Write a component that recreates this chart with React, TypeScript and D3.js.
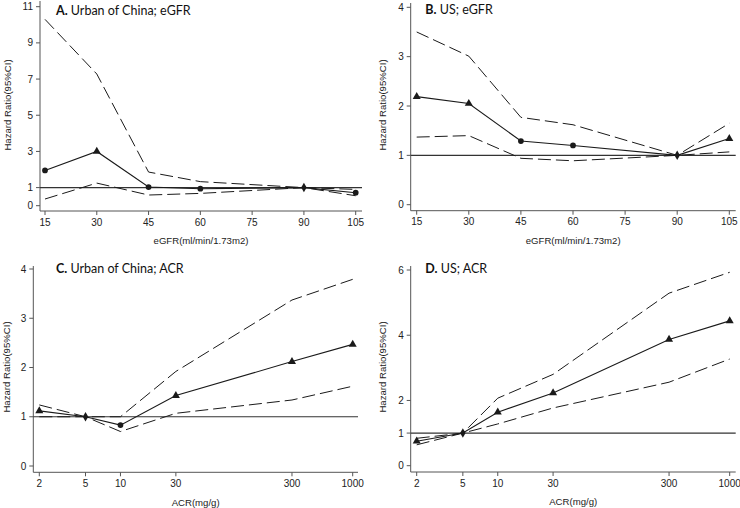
import React from "react";
import * as d3 from "d3";

// ---------- data ----------
const egfrLevels = [15, 30, 45, 60, 90, 105];
const acrLevels = [2, 5, 10, 30, 300, 1000];

const chinaEgfrHR = [1.95, 3.0, 1.03, 0.94, 1.0, 0.72];
const chinaEgfrUpper = [10.3, 7.28, 1.86, 1.33, 1.0, 0.9];
const chinaEgfrLower = [0.37, 1.25, 0.59, 0.68, 1.0, 0.55];
const chinaEgfrMarkers = ["circle", "triangle", "circle", "circle", "diamond", "circle"];

const usEgfrHR = [2.19, 2.05, 1.29, 1.2, 1.0, 1.34];
const usEgfrUpper = [3.5, 3.01, 1.77, 1.62, 1.0, 1.65];
const usEgfrLower = [1.37, 1.4, 0.94, 0.89, 1.0, 1.07];
const usEgfrMarkers = ["triangle", "triangle", "circle", "circle", "diamond", "triangle"];

const chinaAcrHR = [1.12, 1.0, 0.83, 1.43, 2.12, 2.47];
const chinaAcrUpper = [1.24, 1.0, 1.0, 1.92, 3.37, 3.79];
const chinaAcrLower = [1.0, 1.0, 0.7, 1.07, 1.34, 1.62];
const chinaAcrMarkers = ["triangle", "diamond", "circle", "triangle", "triangle", "triangle"];

const usAcrHR = [0.75, 1.0, 1.64, 2.23, 3.87, 4.44];
const usAcrUpper = [0.84, 1.0, 2.07, 2.8, 5.29, 5.93];
const usAcrLower = [0.64, 1.0, 1.28, 1.77, 2.56, 3.27];
const usAcrMarkers = ["triangle", "diamond", "triangle", "triangle", "triangle", "triangle"];

const egfrTicks = [15, 30, 45, 60, 75, 90, 105];
const acrTicks = [2, 5, 10, 30, 300, 1000];
const yTicksA = [0, 1, 3, 5, 7, 9, 11];
const yTicksB = [0, 1, 2, 3, 4];
const yTicksC = [0, 1, 2, 3, 4];
const yTicksD = [0, 1, 2, 4, 6];

const titlesLetter = ["A.", "B.", "C.", "D."];
const titlesText = [" Urban of China; eGFR", " US; eGFR", " Urban of China; ACR", " US; ACR"];
const xTitles = ["eGFR(ml/min/1.73m2)", "eGFR(ml/min/1.73m2)", "ACR(mg/g)", "ACR(mg/g)"];
const yTitle = "Hazard Ratio(95%CI)";

// ---------- layout ----------
type Panel = {
  axisX: number; axisY: number; axisTop: number; axisRight: number;
  xLog: boolean; xRange: [number, number]; yDomain: [number, number]; yRange: [number, number];
  xTicks: number[]; yTicks: number[]; xs: number[];
  hr: number[]; up: number[]; lo: number[]; markers: string[];
  titleX: number; titleY: number; yTitleX: number; yTitleY: number;
};

const panels: Panel[] = [
  { axisX: 40, axisY: 211, axisTop: 1, axisRight: 362, xLog: false, xRange: [45, 355.7], yDomain: [0, 11], yRange: [205.7, 6.7],
    xTicks: egfrTicks, yTicks: yTicksA, xs: egfrLevels, hr: chinaEgfrHR, up: chinaEgfrUpper, lo: chinaEgfrLower, markers: chinaEgfrMarkers,
    titleX: 56, titleY: 11, yTitleX: 8, yTitleY: 105 },
  { axisX: 410.7, axisY: 210.7, axisTop: 3, axisRight: 735.7, xLog: false, xRange: [416.7, 729.3], yDomain: [0, 4], yRange: [204.7, 7.3],
    xTicks: egfrTicks, yTicks: yTicksB, xs: egfrLevels, hr: usEgfrHR, up: usEgfrUpper, lo: usEgfrLower, markers: usEgfrMarkers,
    titleX: 425.3, titleY: 10, yTitleX: 383, yTitleY: 105 },
  { axisX: 33.3, axisY: 472.3, axisTop: 266, axisRight: 358, xLog: true, xRange: [39.3, 352.7], yDomain: [0, 4], yRange: [466, 269],
    xTicks: acrTicks, yTicks: yTicksC, xs: acrLevels, hr: chinaAcrHR, up: chinaAcrUpper, lo: chinaAcrLower, markers: chinaAcrMarkers,
    titleX: 56, titleY: 269, yTitleX: 7, yTitleY: 367 },
  { axisX: 410.7, axisY: 472, axisTop: 266, axisRight: 735.7, xLog: true, xRange: [416.7, 729.7], yDomain: [0, 6], yRange: [465.7, 270],
    xTicks: acrTicks, yTicks: yTicksD, xs: acrLevels, hr: usAcrHR, up: usAcrUpper, lo: usAcrLower, markers: usAcrMarkers,
    titleX: 425.3, titleY: 269, yTitleX: 383, yTitleY: 367 },
];

const symbolMap: Record<string, d3.SymbolType> = {
  circle: d3.symbolCircle,
  triangle: d3.symbolTriangle,
  diamond: d3.symbolDiamond,
};
const symbolSize: Record<string, number> = { circle: 26, triangle: 28, diamond: 26 };

const LINE = "#1a1a1a";
const AXIS = "#555";
const TEXT = "#222";
const FONT = "Arial, 'Liberation Sans', sans-serif";

function PanelView({ p, i }: { p: Panel; i: number }) {
  const x = p.xLog
    ? d3.scaleLog().domain([p.xs[0], p.xs[p.xs.length - 1]]).range(p.xRange)
    : d3.scaleLinear().domain([p.xTicks[0], p.xTicks[p.xTicks.length - 1]]).range(p.xRange);
  const y = d3.scaleLinear().domain(p.yDomain).range(p.yRange);
  const line = d3.line<number>().x((_, k) => x(p.xs[k])).y((v) => y(v));
  const midX = (p.axisX + p.axisRight) / 2;
  return (
    <g>
      <line x1={p.axisX} x2={p.axisX} y1={p.axisTop} y2={p.axisY} stroke={AXIS} strokeWidth={1} />
      <line x1={p.axisX} x2={p.axisRight} y1={p.axisY} y2={p.axisY} stroke={AXIS} strokeWidth={1} />
      {p.yTicks.map((t) => (
        <g key={"y" + t}>
          <line x1={p.axisX - 4} x2={p.axisX} y1={y(t)} y2={y(t)} stroke={AXIS} />
          <text x={p.axisX - 7} y={y(t)} dy="0.35em" textAnchor="end" fontSize={10} fontFamily={FONT} fill={TEXT}>{t}</text>
        </g>
      ))}
      {p.xTicks.map((t) => (
        <g key={"x" + t}>
          <line x1={x(t)} x2={x(t)} y1={p.axisY} y2={p.axisY + 4} stroke={AXIS} />
          <text x={x(t)} y={p.axisY + 11} dy="0.35em" textAnchor="middle" fontSize={10} fontFamily={FONT} fill={TEXT}>{t}</text>
        </g>
      ))}
      <text x={midX} y={p.axisY + 30} dy="0.35em" textAnchor="middle" fontSize={9.6} fontFamily={FONT} fill={TEXT}>{xTitles[i]}</text>
      <text transform={`translate(${p.yTitleX},${p.yTitleY}) rotate(-90)`} dy="0.35em" textAnchor="middle" fontSize={9.6} fontFamily={FONT} fill={TEXT}>{yTitle}</text>
      <line x1={p.axisX} x2={p.axisRight} y1={y(1)} y2={y(1)} stroke="#333" strokeWidth={1.2} />
      <path d={line(p.up) || ""} fill="none" stroke={LINE} strokeWidth={1} strokeDasharray="13,5" />
      <path d={line(p.lo) || ""} fill="none" stroke={LINE} strokeWidth={1} strokeDasharray="13,5" />
      <path d={line(p.hr) || ""} fill="none" stroke={LINE} strokeWidth={1.1} />
      {p.hr.map((v, k) => (
        <path key={"m" + k} transform={`translate(${x(p.xs[k])},${y(v)})`}
          d={d3.symbol().type(symbolMap[p.markers[k]]).size(symbolSize[p.markers[k]])() || ""} fill={LINE} />
      ))}
      <text x={p.titleX} y={p.titleY} dy="0.35em" fontSize={12.5} fontFamily="Lato, 'Open Sans', sans-serif" fill="#111">
        <tspan fontWeight="bold">{titlesLetter[i]}</tspan>
        <tspan>{titlesText[i]}</tspan>
      </text>
    </g>
  );
}

export default function App() {
  return (
    <svg width={740} height={508} style={{ position: "absolute", left: 0, top: 0, background: "#fff" }}>
      <rect width={740} height={508} fill="#fff" />
      {panels.map((p, i) => <PanelView key={i} p={p} i={i} />)}
    </svg>
  );
}
